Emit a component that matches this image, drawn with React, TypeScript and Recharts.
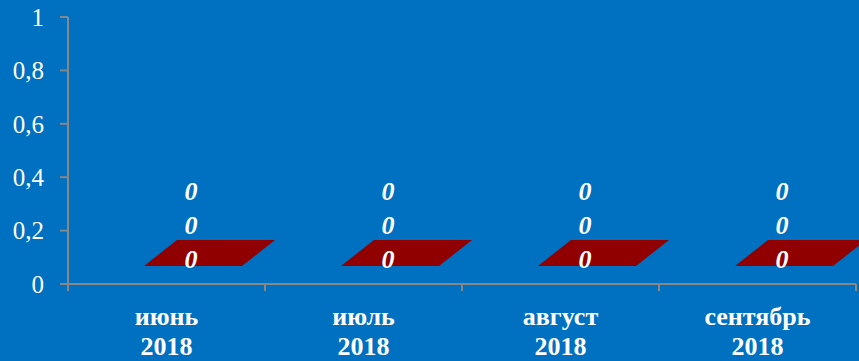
import { Bar, BarChart, LabelList, XAxis, YAxis } from "recharts";

const months = ["июнь", "июль", "август", "сентябрь"];
const years = ["2018", "2018", "2018", "2018"];
const seriesA = [0, 0, 0, 0];
const seriesB = [0, 0, 0, 0];
const seriesC = [0, 0, 0, 0];
const yTicks = [0, 0.2, 0.4, 0.6, 0.8, 1];

const data = months.map((m, i) => ({
  month: m,
  year: years[i],
  a: seriesA[i],
  b: seriesB[i],
  c: seriesC[i],
}));

const BG = "#0070c0";
const AXIS = "#878787";
const SLAB = "#900000";
const SERIF = "'Liberation Serif', 'Times New Roman', serif";

// zero-height 3D bar: only the top face is visible, as a parallelogram
function Slab(props: any) {
  const { x, y, width, height } = props;
  const cx = x + width / 2;
  const base = y + (height || 0);
  const top = base - 44;
  const bottom = base - 18;
  const pts = [
    [cx - 23, bottom],
    [cx + 75, bottom],
    [cx + 108, top],
    [cx + 10, top],
  ]
    .map((p) => p.join(","))
    .join(" ");
  return <polygon points={pts} fill={SLAB} />;
}

function zeroLabel(lift: number) {
  return (p: any) => (
    <text
      x={p.x + p.width / 2 + 24}
      y={p.y + (p.height || 0) - lift}
      textAnchor="middle"
      fill="#fff"
      fontFamily={SERIF}
      fontStyle="italic"
      fontWeight="bold"
      fontSize={26}
    >
      {String(p.value)}
    </text>
  );
}

function MonthTick(props: any) {
  const { x, y, payload, index } = props;
  const off = payload.offset ?? 98.5;
  const row = data[index] ?? data[0];
  return (
    <g>
      {index === 0 && (
        <line x1={x - off} y1={y} x2={x - off} y2={y + 7} stroke={AXIS} strokeWidth={2} />
      )}
      <line x1={x + off} y1={y} x2={x + off} y2={y + 7} stroke={AXIS} strokeWidth={2} />
      <text
        x={x}
        textAnchor="middle"
        fill="#fff"
        fontFamily={SERIF}
        fontWeight="bold"
        fontSize={26}
      >
        <tspan x={x} y={y + 41}>
          {row.month}
        </tspan>
        <tspan x={x} y={y + 71}>
          {row.year}
        </tspan>
      </text>
    </g>
  );
}

export default function App() {
  return (
    <div
      style={{
        position: "fixed",
        left: 0,
        top: 0,
        width: 859,
        height: 361,
        background: BG,
      }}
    >
      <BarChart
        width={859}
        height={361}
        data={data}
        margin={{ top: 17, right: 3, bottom: 0, left: 0 }}
        barSize={98}
      >
        <XAxis
          dataKey="month"
          height={77}
          axisLine={{ stroke: AXIS, strokeWidth: 2 }}
          tickLine={false}
          tickSize={0}
          tickMargin={0}
          tick={<MonthTick />}
          interval={0}
        />
        <YAxis
          domain={[0, 1]}
          ticks={yTicks}
          width={68}
          axisLine={{ stroke: AXIS, strokeWidth: 2 }}
          tickLine={{ stroke: AXIS, strokeWidth: 2 }}
          tickSize={8}
          tickMargin={16}
          tick={{ fill: "#fff", fontFamily: SERIF, fontSize: 25 }}
          tickFormatter={(v: number) => String(v).replace(".", ",")}
        />
        <Bar dataKey="a" stackId="s" shape={<Slab />} isAnimationActive={false}>
          <LabelList dataKey="a" content={zeroLabel(16)} />
        </Bar>
        <Bar dataKey="b" stackId="s" shape={() => <g />} isAnimationActive={false}>
          <LabelList dataKey="b" content={zeroLabel(50)} />
        </Bar>
        <Bar dataKey="c" stackId="s" shape={() => <g />} isAnimationActive={false}>
          <LabelList dataKey="c" content={zeroLabel(84)} />
        </Bar>
      </BarChart>
    </div>
  );
}
